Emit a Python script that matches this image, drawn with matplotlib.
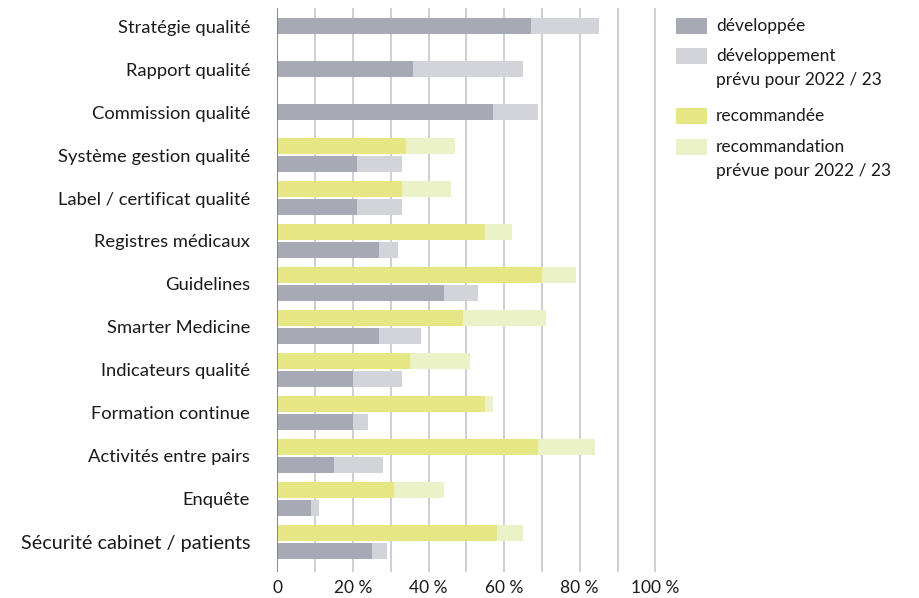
import matplotlib.pyplot as plt
from matplotlib.patches import Rectangle

plt.rcParams['font.family'] = ['Lato', 'DejaVu Sans']

categories = ['Stratégie qualité', 'Rapport qualité', 'Commission qualité',
              'Système gestion qualité', 'Label / certificat qualité',
              'Registres médicaux', 'Guidelines', 'Smarter Medicine',
              'Indicateurs qualité', 'Formation continue',
              'Activités entre pairs', 'Enquête', 'Sécurité cabinet / patients']
# % developed, and total incl. planned 2022/23
developed = [67, 36, 57, 21, 21, 27, 44, 27, 20, 20, 15, 9, 25]
developed_total = [85, 65, 69, 33, 33, 32, 53, 38, 33, 24, 28, 11, 29]
# % recommended, and total incl. planned 2022/23 (None = not asked)
recommended = [None, None, None, 34, 33, 55, 70, 49, 35, 55, 69, 31, 58]
recommended_total = [None, None, None, 47, 46, 62, 79, 71, 51, 57, 84, 44, 65]
xticks = [0, 20, 40, 60, 80, 100]
xtick_labels = ['0', '20 %', '40 %', '60 %', '80 %', '100 %']

c_dev = '#a7a9b5'
c_dev_plan = '#d3d4d9'
c_rec = '#e6e685'
c_rec_plan = '#ecf2c8'

W, H = 919, 598
fig = plt.figure(figsize=(W / 100, H / 100), dpi=100)
px = 3.78  # pixels per percent
x0 = 277.3
ax = fig.add_axes([x0 / W, 26 / H, 101 * px / W, 564 / H])
ax.set_xlim(0, 101)
ax.set_ylim(12.70, -0.42)

h = 0.372
off = 0.209
for i in range(len(categories)):
    if recommended[i] is None:
        yd = i
    else:
        yd = i + off
        yr = i - off
        ax.barh(yr, recommended[i], height=h, color=c_rec, zorder=2)
        ax.barh(yr, recommended_total[i] - recommended[i], left=recommended[i],
                height=h, color=c_rec_plan, zorder=2)
    ax.barh(yd, developed[i], height=h, color=c_dev, zorder=2)
    ax.barh(yd, developed_total[i] - developed[i], left=developed[i],
            height=h, color=c_dev_plan, zorder=2)

for g in range(10, 101, 10):
    ax.axvline(g, color='#c6c7ce', lw=1.2, zorder=1)
ax.axvline(0, color='#7a8088', lw=1.3, zorder=3)

for s in ax.spines.values():
    s.set_visible(False)
ax.set_xticks(xticks)
ax.set_xticklabels(xtick_labels, fontsize=12.5, color='#1a1a1a')
ax.set_yticks(range(len(categories)))
ax.set_yticklabels(categories, fontsize=13.2, color='#1a1a1a')
ax.get_yticklabels()[-1].set_fontsize(14.3)
ax.tick_params(axis='both', length=0)
ax.tick_params(axis='x', pad=6)
ax.tick_params(axis='y', pad=19.5)

# legend drawn in figure pixels
items = [(18, c_dev, ['développée']),
         (48, c_dev_plan, ['développement', 'prévu pour 2022 / 23']),
         (108, c_rec, ['recommandée']),
         (139, c_rec_plan, ['recommandation', 'prévue pour 2022 / 23'])]
for top, col, lines in items:
    fig.add_artist(Rectangle((676 / W, 1 - (top + 16) / H), 31 / W, 16 / H,
                             transform=fig.transFigure, color=col, lw=0))
    for k, t in enumerate(lines):
        fig.text(716 / W, 1 - (top + 8 + 24 * k) / H, t, fontsize=12.5,
                 va='center', ha='left', color='#1a1a1a')

fig.savefig('out.png', dpi=100)
